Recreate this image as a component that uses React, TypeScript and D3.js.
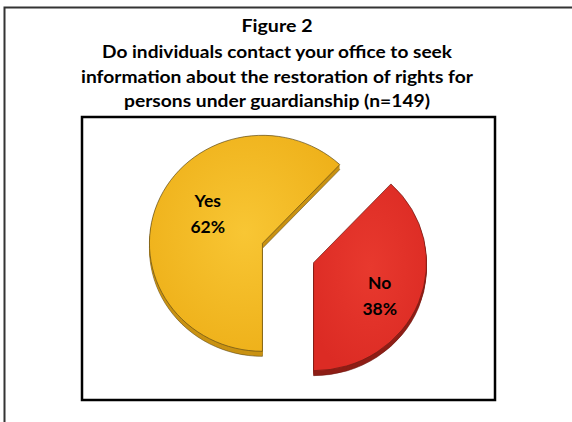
import React from "react";
import * as d3 from "d3";

const TITLE_LINES = [
  "Figure 2",
  "Do individuals contact your office to seek",
  "information about the restoration of rights for",
  "persons under guardianship (n=149)",
];
const TITLE_WIDTHS = [71, 350, 392, 306];
const CATEGORIES = ["No", "Yes"];
const VALUES = [38, 62];
const PCT_LABELS = ["38%", "62%"];

const W = 572;
const H = 422;
const PLOT = { x0: 82, y0: 117, x1: 495, y1: 400 };
const CX = 288;
const CY = 253;
const RX = 113;
const RY = 108;
const DEPTH = 5;
const EXPLODE = 27.5;
const TOP_IN = ["#E8392E", "#F8C634"];
const TOP_OUT = ["#DC2B24", "#EEB019"];
const SIDE = ["#8E1E16", "#C99213"];
const EDGE = ["#6e1a12", "#5e4a18"];
const LABEL_FX = [0.63, 0.52];
const LABEL_FY = [0.83, 0.76];

export default function App() {
  const total = d3.sum(VALUES);
  const start = Math.PI - (2 * Math.PI * VALUES[0]) / total;
  const pie = d3
    .pie<number>()
    .sort(null)
    .value((d) => d)
    .startAngle(start)
    .endAngle(start + 2 * Math.PI);
  const arcs = pie(VALUES);
  const arc = d3.arc<d3.PieArcDatum<number>>().innerRadius(0).outerRadius(100);
  const font = "Lato, 'Open Sans', sans-serif";
  const depthLayers = d3.range(DEPTH, 0, -1);

  const slices = arcs.map((a, i) => {
    const mid = (a.startAngle + a.endAngle) / 2;
    const sx = Math.sin(mid);
    const sy = -Math.cos(mid);
    const vx = CX + sx * EXPLODE;
    const vy = CY + sy * EXPLODE * (RY / RX);
    const lx = vx + sx * RX * LABEL_FX[i];
    const ly = vy + sy * RY * LABEL_FY[i];
    return { a, i, vx, vy, lx, ly };
  });

  return (
    <svg
      width={W}
      height={H}
      style={{ position: "absolute", left: 0, top: 0, background: "#fff" }}
    >
      <defs>
        {slices.map((s) => (
          <radialGradient key={s.i} id={`g${s.i}`} cx="50%" cy="45%" r="60%">
            <stop offset="0%" stopColor={TOP_IN[s.i]} />
            <stop offset="100%" stopColor={TOP_OUT[s.i]} />
          </radialGradient>
        ))}
      </defs>
      {/* outer frame */}
      <path d={`M4.5,${H} L4.5,7.5 L${W},7.5`} fill="none" stroke="#333" strokeWidth={2} />
      {/* plot box */}
      <rect
        x={PLOT.x0}
        y={PLOT.y0}
        width={PLOT.x1 - PLOT.x0}
        height={PLOT.y1 - PLOT.y0}
        fill="none"
        stroke="#000"
        strokeWidth={2.5}
      />
      {TITLE_LINES.map((t, i) => (
        <text
          key={i}
          x={277}
          y={[32, 58, 83, 107][i]}
          textAnchor="middle"
          fontFamily={font}
          fontWeight="bold"
          fontSize={16.5}
          fill="#000"
          textLength={TITLE_WIDTHS[i]}
          lengthAdjust="spacingAndGlyphs"
        >
          {t}
        </text>
      ))}
      {slices.map((s) => (
        <g key={s.i}>
          {depthLayers.map((dz) => (
            <path
              key={dz}
              d={arc(s.a) as string}
              transform={`translate(${s.vx},${s.vy + dz}) scale(${RX / 100},${RY / 100})`}
              fill={SIDE[s.i]}
              stroke={dz === DEPTH ? EDGE[s.i] : "none"}
              strokeWidth={0.6}
              vectorEffect="non-scaling-stroke"
            />
          ))}
          <path
            d={arc(s.a) as string}
            transform={`translate(${s.vx},${s.vy}) scale(${RX / 100},${RY / 100})`}
            fill={`url(#g${s.i})`}
            stroke={EDGE[s.i]}
            strokeWidth={0.7}
            vectorEffect="non-scaling-stroke"
          />
        </g>
      ))}
      {slices.map((s) => (
        <g key={"l" + s.i} fontFamily={font} fontWeight="bold" fontSize={17.5} fill="#000" textAnchor="middle">
          <text x={s.lx} y={s.ly - 6.5}>{CATEGORIES[s.i]}</text>
          <text x={s.lx} y={s.ly + 19.5}>{PCT_LABELS[s.i]}</text>
        </g>
      ))}
    </svg>
  );
}
